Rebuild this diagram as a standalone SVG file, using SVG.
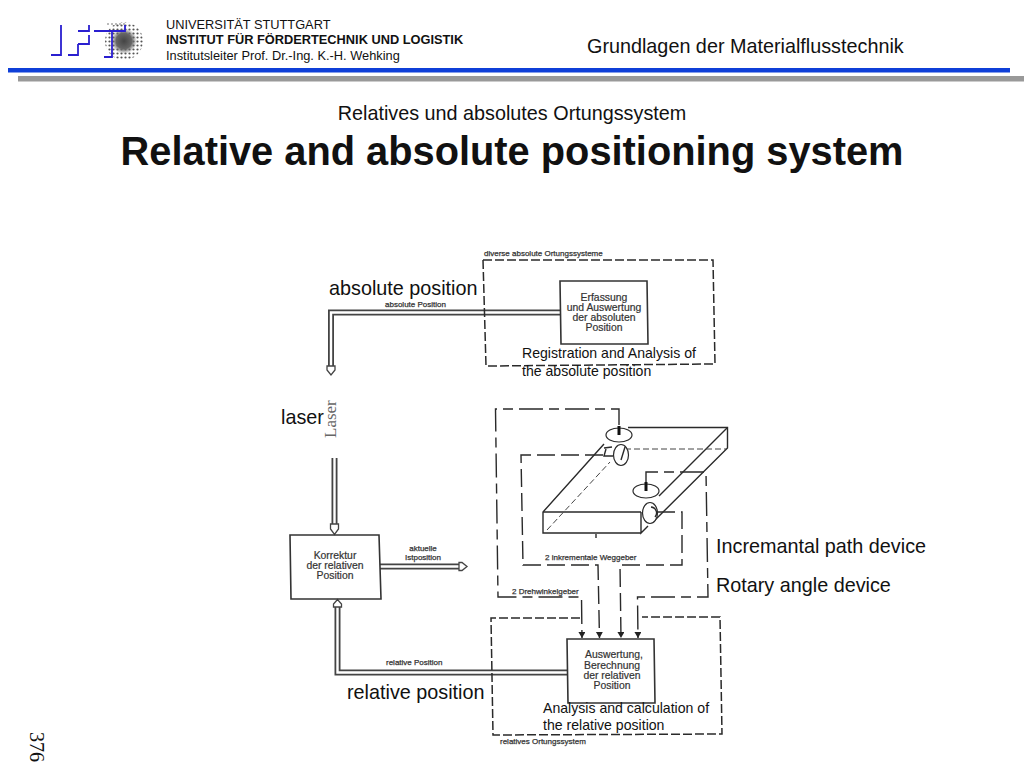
<svg xmlns="http://www.w3.org/2000/svg" width="1024" height="768" viewBox="0 0 1024 768">
<style>
text{font-family:"Liberation Sans",Arial,sans-serif;fill:#111}
.lab{font-size:19.800px}
.hd{font-size:12.800px}
.cap{font-size:14.100px}
.scan{font-size:10.400px;fill:#333;text-anchor:middle;stroke:#333;stroke-width:.2}
.mini{font-size:8px;fill:#333;stroke:#333;stroke-width:.25}
.box{fill:none;stroke:#333;stroke-width:1.6}
.dash{fill:none;stroke:#2a2a2a;stroke-width:1.5;stroke-dasharray:9 3}
.ldash{fill:none;stroke:#2a2a2a;stroke-width:1.4;stroke-dasharray:24 6 10 6}
.idash{fill:none;stroke:#2a2a2a;stroke-width:1.4;stroke-dasharray:18 6}
.solid{fill:none;stroke:#2a2a2a;stroke-width:1.4}
.thin{fill:none;stroke:#444;stroke-width:1;stroke-dasharray:6 3}
.dbo{fill:none;stroke:#444;stroke-width:6}
.dbi{fill:none;stroke:#fff;stroke-width:2.400px}
.head{fill:#fff;stroke:#444;stroke-width:1.300px}
.blue{fill:none;stroke:#2a1fd0;stroke-width:1.800px}
.whl{fill:#fff;stroke:#2a2a2a;stroke-width:1.200px}
</style>
<defs>
<pattern id="dots" width="4" height="4" patternUnits="userSpaceOnUse"><circle cx="1.500" cy="1.500" r="1.100" fill="#555"/></pattern>
<radialGradient id="core"><stop offset="0" stop-color="#444"/><stop offset=".6" stop-color="#666"/><stop offset="1" stop-color="#777" stop-opacity="0"/></radialGradient>
<marker id="ah" markerWidth="7" markerHeight="8" refX="6" refY="3.500" orient="auto" markerUnits="userSpaceOnUse"><path d="M0 0L6 3.500L0 7Z" fill="#222"/></marker>
</defs>

<g id="header">
<g id="logo">
<circle cx="124" cy="41" r="19" fill="url(#dots)"/>
<circle cx="124" cy="41" r="13" fill="url(#core)"/>
<path class="blue" d="M61 25V55H51M89 25V31H78M78 44H89V35M78 44V55H68M94 31H112V57H104M112 31H125V25"/>
<path d="M107 24H125" stroke="#777" stroke-dasharray="2 2" fill="none"/>
</g>
<text x="166" y="29" class="hd">UNIVERSITÄT STUTTGART</text>
<text x="166" y="44" class="hd" font-weight="700">INSTITUT FÜR FÖRDERTECHNIK UND LOGISTIK</text>
<text x="166" y="60" class="hd">Institutsleiter Prof. Dr.-Ing. K.-H. Wehking</text>
<text x="587" y="53" class="lab">Grundlagen der Materialflusstechnik</text>
<rect x="8" y="68" width="1002" height="4.500" fill="#0f3fd8"/>
<rect x="18" y="76" width="1006" height="5.500" fill="#999"/>
</g>

<g id="title">
<text x="512" y="120" class="lab" text-anchor="middle">Relatives und absolutes Ortungssystem</text>
<text x="512" y="165" font-size="39.800" font-weight="700" text-anchor="middle">Relative and absolute positioning system</text>
</g>

<g id="connectors">
<path class="dbo" d="M331 370V312.500H560"/>
<path class="dbi" d="M331 370V312.500H560"/>
<path class="head" d="M327 366H335V370L331 375L327 370Z"/>
<path class="dbo" d="M334.500 458V528"/>
<path class="dbi" d="M334.500 458V528"/>
<path class="head" d="M330.500 524H338.500V529L334.500 534.500L330.500 529Z"/>
<path class="dbo" d="M380 566.500H460"/>
<path class="dbi" d="M380 566.500H460"/>
<path class="head" d="M459 562.500H462L467 566.500L462 570.500H459Z"/>
<path class="dbo" d="M567 672.500H337.500V606"/>
<path class="dbi" d="M567 672.500H337.500V606"/>
<path class="head" d="M333.500 607V604L337.500 599.500L341.500 604V607Z"/>
<path class="ldash" d="M619 425V409H495.500L498 597H581.500L582 638" marker-end="url(#ah)"/>
<path class="ldash" d="M646 484V472H706L708 597H637.500L638 638" marker-end="url(#ah)"/>
<path class="idash" d="M603 455H521L523 565H598L599.500 638" marker-end="url(#ah)"/>
<path class="idash" d="M657 512H682V565H620L621 638" marker-end="url(#ah)"/>
</g>

<g id="plate">
<path class="solid" d="M628 427.500H727.500V448L653 522M641 533H543V512L604 444"/>
<path class="solid" d="M543 512H641M727.500 427.500L659 496M596 534V538M641 512V533L648 526"/>
<path class="thin" d="M547 530L610 462M625 449H727"/>
<ellipse class="whl" cx="619" cy="435" rx="13" ry="7"/>
<path d="M619 426V435" stroke="#111" stroke-width="3"/>
<ellipse class="whl" cx="621" cy="455" rx="7.500" ry="10.500"/>
<path class="solid" d="M604 448L612 447M606 449L604 456H613M625 447L621 460"/>
<ellipse class="whl" cx="646" cy="491" rx="13" ry="7"/>
<path d="M646 482V491" stroke="#111" stroke-width="3"/>
<ellipse class="whl" cx="650" cy="513" rx="7.500" ry="10.500"/>
<path class="solid" d="M651 507A6 6 0 0 1 655 517"/>
</g>

<g id="node-absolute-system">
<path class="dash" d="M483 260H713L715 364L486 366Z"/>
<text x="484" y="256" class="mini">diverse absolute Ortungssysteme</text>
</g>
<g id="node-erfassung">
<path class="box" d="M560 281H647L648 344H561Z"/>
<text class="scan" x="604" y="301">Erfassung</text>
<text class="scan" x="604" y="311">und Auswertung</text>
<text class="scan" x="604" y="321">der absoluten</text>
<text class="scan" x="604" y="331">Position</text>
</g>
<g id="node-korrektur">
<path class="box" d="M290 535H379L381 599H291Z"/>
<text class="scan" x="335" y="559">Korrektur</text>
<text class="scan" x="335" y="569">der relativen</text>
<text class="scan" x="335" y="579">Position</text>
</g>
<g id="node-auswertung">
<path class="box" d="M567 639H654L655 703H568Z"/>
<text class="scan" x="614" y="658">Auswertung,</text>
<text class="scan" x="612" y="669">Berechnung</text>
<text class="scan" x="612" y="679">der relativen</text>
<text class="scan" x="612" y="689">Position</text>
</g>
<g id="node-relative-system">
<path class="dash" d="M580 618H491L493 735L722 734L720 617H642"/>
<text x="500" y="744" class="mini">relatives Ortungssystem</text>
</g>

<g id="scan-labels">
<text class="mini" x="385" y="307">absolute Position</text>
<text class="mini" text-anchor="middle" x="423" y="551">aktuelle</text>
<text class="mini" text-anchor="middle" x="423" y="560">Istposition</text>
<text class="mini" x="386" y="665">relative Position</text>
<text class="mini" x="545" y="560">2 inkrementale Weggeber</text>
<text class="mini" x="512" y="594">2 Drehwinkelgeber</text>
<text transform="translate(336 438) rotate(-90)" font-size="17" style="font-family:'Liberation Serif',serif;fill:#666">Laser</text>
</g>

<g id="labels">
<text class="lab" x="329" y="295">absolute position</text>
<text class="lab" x="281" y="424">laser</text>
<text class="lab" x="347" y="699">relative position</text>
<text class="lab" x="716" y="553">Incremantal path device</text>
<text class="lab" x="716" y="592">Rotary angle device</text>
<text class="cap" x="522" y="358">Registration and Analysis of</text>
<text class="cap" x="522" y="376">the absolute position</text>
<text class="cap" x="543" y="713">Analysis and calculation of</text>
<text class="cap" x="543" y="730">the relative position</text>
<text transform="translate(30 732) rotate(90)" font-size="20" style="font-family:'Liberation Serif',serif">376</text>
</g>
</svg>
